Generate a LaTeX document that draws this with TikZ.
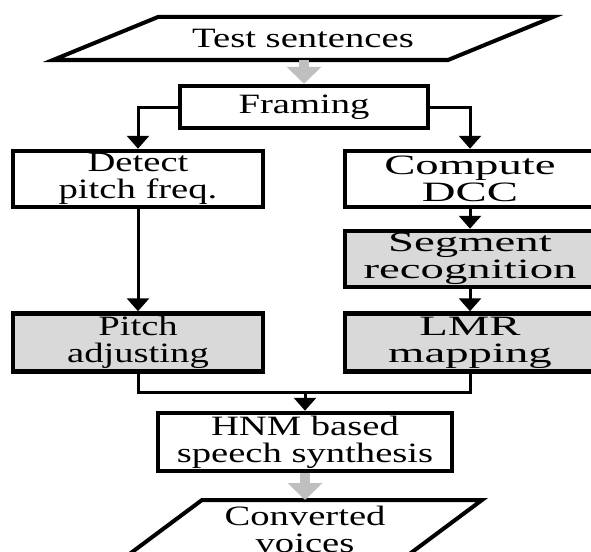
\documentclass[tikz,border=0pt]{standalone}
\usepackage{fontspec}
\setmainfont{Liberation Serif}[FakeStretch=1.38]
\newfontfamily\widefont{Liberation Serif}[FakeStretch=1.67]
\usetikzlibrary{arrows.meta,calc}
\begin{document}
\begin{tikzpicture}[x=1pt,y=-1pt,
  txt/.style={font=\fontsize{28}{27}\selectfont, align=center, inner sep=0pt},
  box/.style={txt, draw, line width=4.5pt, minimum width=250pt, minimum height=56pt},
  graybox/.style={box, fill=gray!30},
  wide/.style={font=\widefont\fontsize{28}{27}\selectfont},
  conn/.style={line width=3pt, -{Triangle[length=13pt,width=22pt]}},
  plain/.style={line width=3pt},
  garrow/.style={draw=gray!50, line width=10pt, -{Triangle[length=17pt,width=34pt]}},
  para/.style={line width=4pt, line join=miter}]
\useasboundingbox (0,0) rectangle (591,551);
\clip (0,0) rectangle (591,551);
% top parallelogram
\draw[para] (158,17) -- (553,17) -- (448,60) -- (53,60) -- cycle;
\node[txt, minimum height=43pt] (ts) at (303,38.5) {Test sentences};
% boxes
\node[box, minimum width=248pt, minimum height=42pt] (fr) at (304,107) {Framing};
\node[box] (det) at (138,179) {Detect\\pitch freq.};
\node[box, wide] (cmp) at (470,179) {Compute\\DCC};
\node[graybox, wide] (seg) at (470,259) {Segment\\recognition};
\node[graybox, minimum height=58pt] (pit) at (138,342.5) {Pitch\\adjusting};
\node[graybox, wide, minimum height=58pt] (lmr) at (470,342.5) {LMR\\mapping};
\node[box, minimum width=294pt, minimum height=58pt] (hnm) at (305,442) {HNM based\\speech synthesis};
% bottom parallelogram
\draw[para] (202,500) -- (482,500) -- (388,570) -- (108,570) -- cycle;
\node[txt] (out) at (305,529) {Converted\\voices};
\coordinate (outtop) at (305,500);
% connectors
\draw[garrow] (fr.north |- ts.south) -- (fr.north);
\draw[conn] (fr.west) -| (det.north);
\draw[conn] (fr.east) -| (cmp.north);
\draw[conn] (cmp.south) -- (seg.north);
\draw[conn] (seg.south) -- (lmr.north);
\draw[conn] (det.south) -- (pit.north);
\coordinate (mj) at (hnm.north |- 0,392);
\draw[plain] (pit.south) |- (mj) -| (lmr.south);
\draw[conn] (mj) -- (hnm.north);
\draw[garrow] (hnm.south) -- (outtop);
\end{tikzpicture}
\end{document}
